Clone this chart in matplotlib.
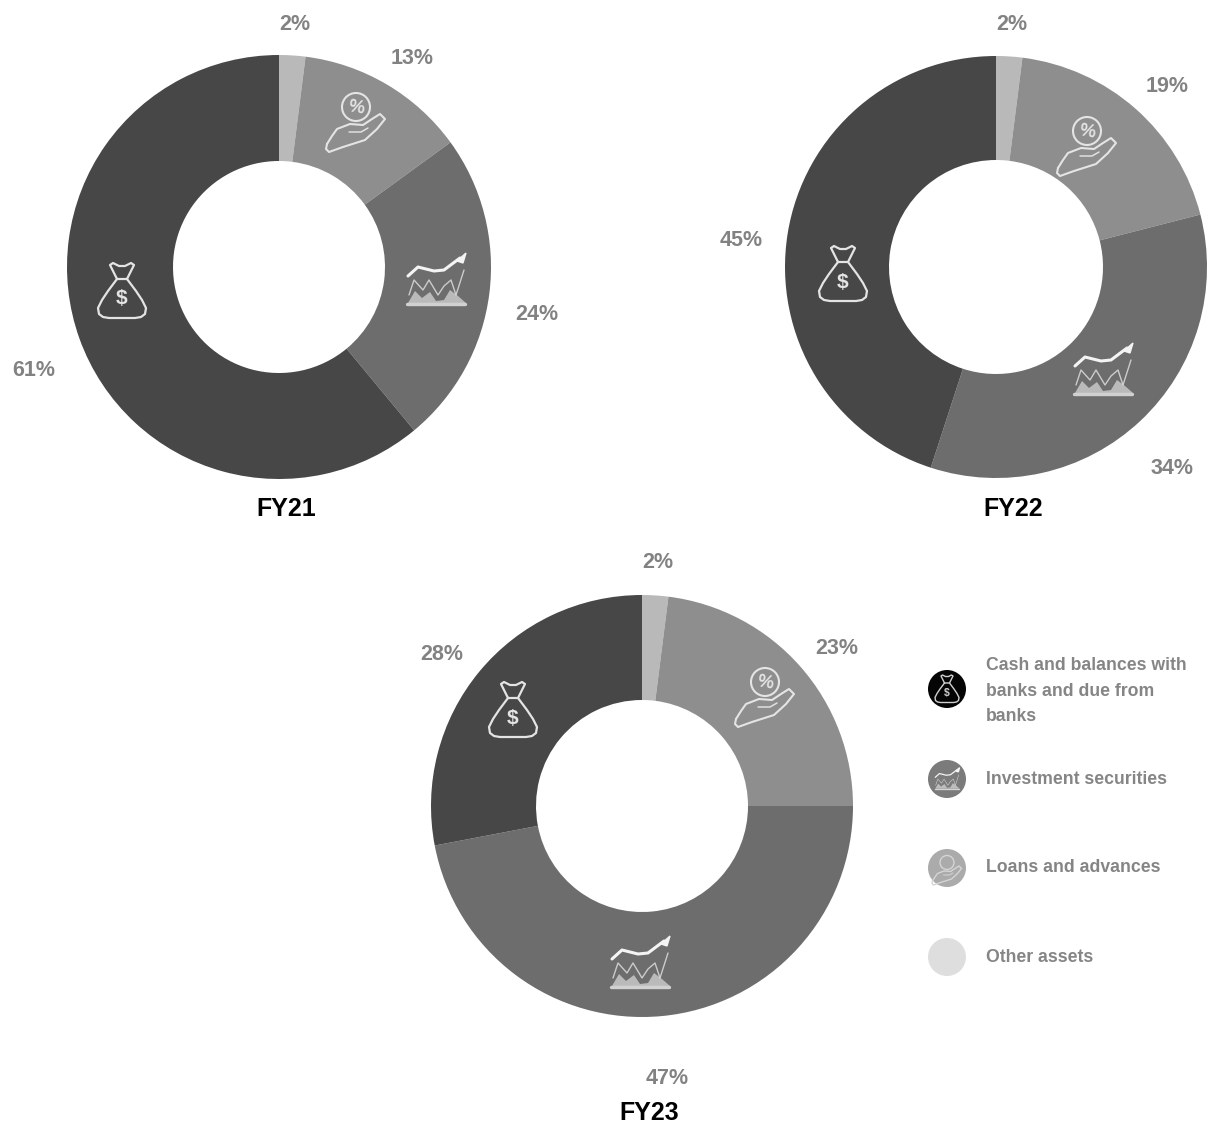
import matplotlib
matplotlib.use("Agg")
import matplotlib.pyplot as plt
from matplotlib.patches import Circle, Polygon

W = 1207
H = 1124

plt.rcParams['font.family'] = ['Liberation Sans', 'DejaVu Sans']

# clockwise from the top: other, loans, investments, cash
fy21 = [2, 13, 24, 61]
fy22 = [2, 19, 34, 45]
fy23 = [2, 23, 47, 28]
years = ['FY21', 'FY22', 'FY23']
colors = ['#b9b9b9', '#8e8e8e', '#6d6d6d', '#474747']

legend_labels = ['Cash and balances with\nbanks and due from\nbanks',
                 'Investment securities', 'Loans and advances', 'Other assets']
legend_colors = ['#050505', '#7b7b7b', '#ababab', '#dedede']

# layout in image pixels
centers = [(279, 267), (996, 267), (642, 806)]
radii = [212, 211, 211]
holes = [106, 107, 106]
label_pos = [[(295, 25), (412, 59), (537, 315), (34, 371)],
             [(1012, 25), (1167, 87), (1172, 469), (741, 241)],
             [(658, 563), (837, 649), (667, 1078), (442, 655)]]
title_pos = [(286, 509), (1013, 509), (649, 1113)]
bag_pos = [(122, 291), (843, 274), (513, 710)]
hand_pos = [(356, 122), (1087, 146), (765, 697)]
chart_pos = [(436, 280), (1103, 370), (640, 963)]
legend_y = [689, 779, 868, 957]
legend_text_y = [691, 779, 868, 958]

fig = plt.figure(figsize=(W / 100, H / 100), dpi=100)
ax = fig.add_axes([0, 0, 1, 1])


def Y(y):
    return H - y


def line(xs, ys, x0, y0, s, color, lw, alpha=1.0):
    ax.plot([x0 + s * x for x in xs], [Y(y0) + s * y for y in ys],
            color=color, lw=lw, alpha=alpha, solid_capstyle='round',
            solid_joinstyle='round', zorder=5)


def bag(x0, y0, s=1.0, color='#e4e4e4', lw=1.6):
    line([-5, -12, -9, -3, 3, 9, 12, 5, -5], [12, 26, 28, 25, 25, 28, 26, 12, 12], x0, y0, s, color, lw)
    line([-5, -14, -20, -24, -23, -19, -13, 13, 19, 23, 24, 20, 14, 5],
         [12, 0, -9, -17, -23, -26, -27, -27, -26, -23, -17, -9, 0, 12], x0, y0, s, color, lw)
    ax.text(x0, Y(y0) - 8 * s, '$', color=color, fontsize=15 * s, fontweight='bold',
            ha='center', va='center', zorder=5)


def hand(x0, y0, s=1.0, color='#e4e4e4', lw=1.5):
    ax.add_patch(Circle((x0, Y(y0) + 15 * s), 14 * s, fill=False, ec=color, lw=lw, zorder=5))
    if s > 0.6:
        ax.text(x0, Y(y0) + 14 * s, '%', color=color, fontsize=13 * s, fontweight='bold',
                ha='center', va='center', rotation=-10, zorder=5)
    xs = [-29, -24, -19, -6, 7, 16, 24, 29, 21, 9, -13, -27, -30, -29]
    ys = [-22, -14, -7, -2, -3, 3, 8, 3, -7, -18, -25, -30, -27, -22]
    line(xs, ys, x0, y0, s, color, lw)
    line([-7, 5, 12], [-10, -10, -6], x0, y0, s, color, lw * 0.7)


def stock(x0, y0, s=1.0, color='#e4e4e4', lw=2.2):
    # mountains, thin zigzag, base and the rising arrow
    pts = [(-28, -23), (-21, -11), (-14, -18), (-6, -12), (0, -21), (8, -20), (14, -10), (22, -16), (30, -23)]
    ax.add_patch(Polygon([(x0 + s * a, Y(y0) + s * b) for a, b in pts], fc=color, ec='none', alpha=0.65, zorder=5))
    line([-27, -22, -13, -7, 2, 8, 15, 20, 28], [-15, 0, -10, 0, -15, -6, 0, -15, 10], x0, y0, s, color, lw * 0.45, 0.8)
    line([-29, 29], [-24, -24], x0, y0, s, color, lw * 1.1, 0.85)
    line([-28, -18, -2, 8, 24], [4, 13, 9, 10, 22], x0, y0, s, '#f4f4f4', lw)
    ax.add_patch(Polygon([(x0 + s * a, Y(y0) + s * b) for a, b in [(21, 19), (30, 27), (27, 17)]],
                         fc='#f4f4f4', ec='#f4f4f4', zorder=5))


for i, vals in enumerate([fy21, fy22, fy23]):
    cx, cy = centers[i]
    ax.pie(vals, colors=colors, startangle=90, counterclock=False,
           center=(cx, Y(cy)), radius=radii[i],
           wedgeprops={'width': radii[i] - holes[i], 'linewidth': 0})
    for v, (x, y) in zip(vals, label_pos[i]):
        ax.text(x, Y(y), f'{v}%', color='#757575', fontsize=15.5, fontweight='bold',
                ha='center', va='center', alpha=0.9)
    ax.text(title_pos[i][0], Y(title_pos[i][1]), years[i], color='black', fontsize=18,
            fontweight='bold', ha='center', va='center')
    bag(*bag_pos[i])
    hand(*hand_pos[i])
    stock(*chart_pos[i])

for lab, c, y, ty in zip(legend_labels, legend_colors, legend_y, legend_text_y):
    ax.add_patch(Circle((947, Y(y)), 19, fc=c, ec='none', zorder=4))
    ax.text(986, Y(ty), lab, color='#858585', fontsize=12.7, fontweight='bold',
            ha='left', va='center', linespacing=1.62)

bag(947, legend_y[0], 0.5, '#d0d0d0', 1.0)
stock(947, legend_y[1], 0.42, '#e2e2e2', 0.9)
hand(947, legend_y[2] + 2, 0.5, '#d5d5d5', 1.0)

ax.set_xlim(0, W)
ax.set_ylim(0, H)
ax.set_aspect('auto')
ax.axis('off')

fig.savefig('out.png', dpi=100)
